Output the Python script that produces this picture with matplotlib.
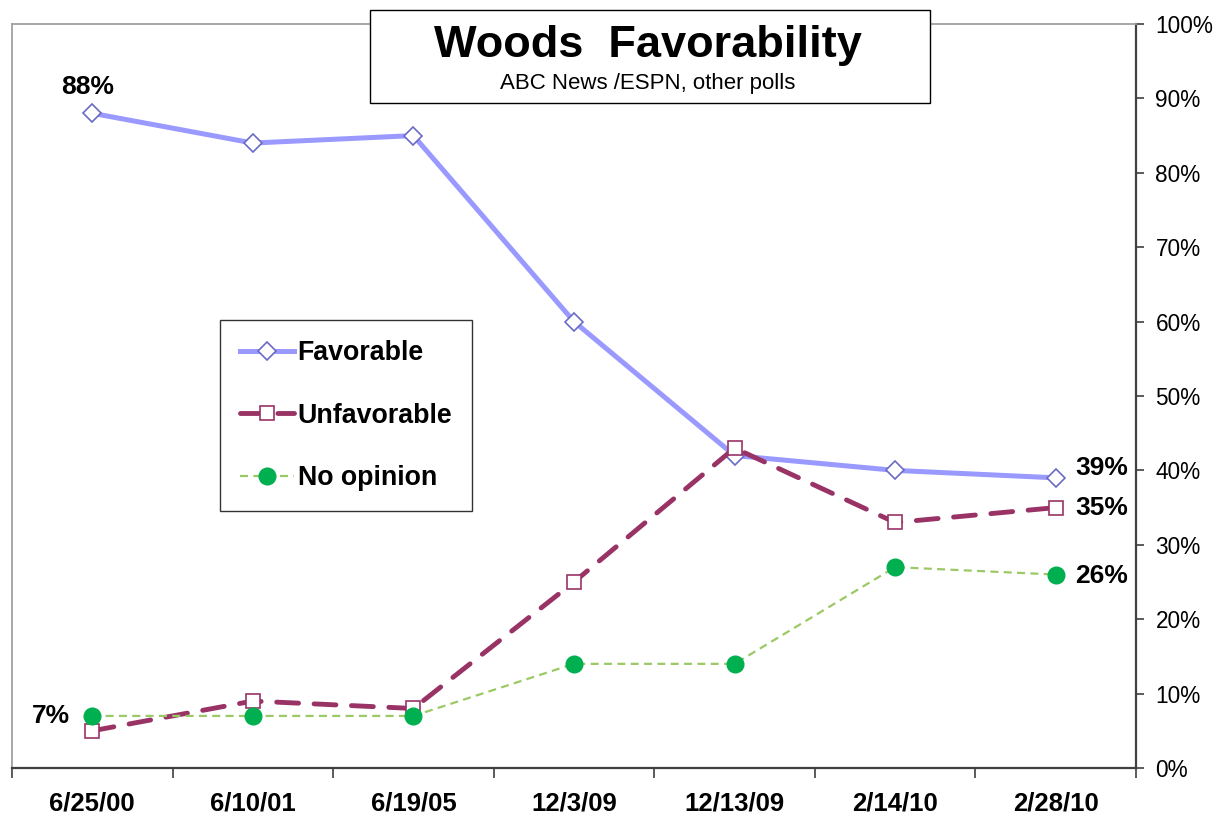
import matplotlib
matplotlib.use("Agg")
import matplotlib.pyplot as plt
from matplotlib.patches import Rectangle
from matplotlib.ticker import FixedLocator, PercentFormatter

plt.rcParams["font.family"] = ["Liberation Sans", "DejaVu Sans"]

# Poll dates and results (%)
dates = ["6/25/00", "6/10/01", "6/19/05", "12/3/09", "12/13/09", "2/14/10", "2/28/10"]
favorable = [88, 84, 85, 60, 42, 40, 39]
unfavorable = [5, 9, 8, 25, 43, 33, 35]
no_opinion = [7, 7, 7, 14, 14, 27, 26]

x = list(range(len(dates)))

fig = plt.figure(figsize=(12.22, 8.19), dpi=100)
ax = fig.add_axes([12 / 1222, 51 / 819, 1124 / 1222, 744 / 819])

ax.plot(x, favorable, color="#9999ff", lw=3.6, marker="D", ms=9,
        mfc="white", mec="#6a6ac8", mew=1.2, label="Favorable", zorder=3)
ax.plot(x, unfavorable, color="#993366", lw=3.5, dashes=(4.5, 3.2),
        dash_capstyle="round", marker="s", ms=10, mfc="white",
        mec="#993366", mew=1.2, label="Unfavorable", zorder=4)
ax.plot(x, no_opinion, color="#9bc965", lw=1.6, dashes=(3.6, 2.4),
        marker="o", ms=12, mfc="#00b050", mec="#00b050", label="No opinion",
        zorder=5)

# axes
ax.set_xlim(-0.5, len(dates) - 0.5)
ax.set_ylim(0, 100)
ax.yaxis.tick_right()
ax.yaxis.set_major_locator(FixedLocator(range(0, 101, 10)))
ax.yaxis.set_major_formatter(PercentFormatter(decimals=0))
ax.tick_params(axis="y", direction="out", length=6, width=1.2, pad=8,
               labelsize=16.3, colors="#404040", labelcolor="black")

ax.xaxis.set_major_locator(FixedLocator([i - 0.5 for i in range(len(dates) + 1)]))
ax.xaxis.set_minor_locator(FixedLocator(x))
ax.set_xticklabels([], minor=False)
ax.set_xticklabels(dates, minor=True, fontweight="bold", fontsize=18.5)
ax.tick_params(axis="x", which="major", direction="out", length=7, width=1.2,
               colors="#404040")
ax.tick_params(axis="x", which="minor", length=0, pad=17)

for side in ("left", "top"):
    ax.spines[side].set_color("#a0a0a0")
    ax.spines[side].set_linewidth(1.3)
for side in ("right", "bottom"):
    ax.spines[side].set_color("#404040")
    ax.spines[side].set_linewidth(1.6)

# data labels
lab = dict(fontsize=19, fontweight="bold", textcoords="offset points")
ax.annotate("88%", (0, favorable[0]), xytext=(-3, 19), ha="center", va="center", **lab)
ax.annotate("7%", (0, no_opinion[0]), xytext=(-16, 0), ha="right", va="center", **lab)
ax.annotate("39%", (6, favorable[6]), xytext=(14, 7), ha="left", va="center", **lab)
ax.annotate("35%", (6, unfavorable[6]), xytext=(14, 0), ha="left", va="center", **lab)
ax.annotate("26%", (6, no_opinion[6]), xytext=(14, -1), ha="left", va="center", **lab)

# legend
leg = ax.legend(loc="upper left", bbox_to_anchor=(220 / 1222, 1 - 320 / 819),
                bbox_transform=fig.transFigure, borderaxespad=0,
                prop=dict(size=19.3, weight="bold"), frameon=True, fancybox=False,
                edgecolor="black", handlelength=2.0, handletextpad=0.15,
                labelspacing=1.36, borderpad=0.75)
leg.get_frame().set_linewidth(1.0)

# title box
fig.patches.append(Rectangle((370 / 1222, 1 - 103 / 819), 560 / 1222, 93 / 819,
                             transform=fig.transFigure, facecolor="white",
                             edgecolor="black", lw=1.0, zorder=10))
fig.text(648 / 1222, 1 - 45 / 819, "Woods  Favorability", ha="center",
         va="center", fontsize=32.5, fontweight="bold", zorder=11)
fig.text(648 / 1222, 1 - 83 / 819, "ABC News /ESPN, other polls", ha="center",
         va="center", fontsize=16, zorder=11)

fig.savefig("out.png", dpi=100)
